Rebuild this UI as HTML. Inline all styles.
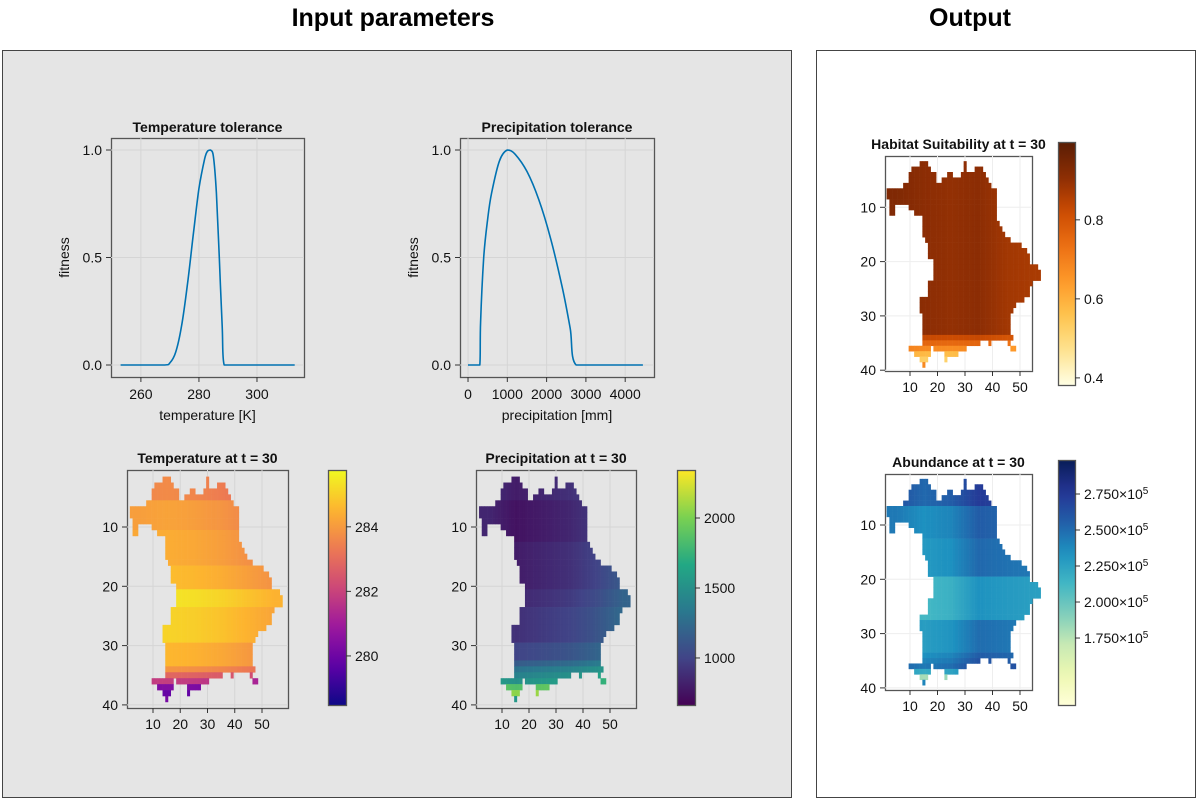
<!DOCTYPE html>
<html><head><meta charset="utf-8">
<style>
html,body{margin:0;padding:0;background:#fff;}
svg{display:block;font-family:"Liberation Sans",sans-serif;}
</style></head>
<body>
<svg id="fig" width="1200" height="800" viewBox="0 0 1200 800" xmlns="http://www.w3.org/2000/svg">
<text x="393" y="26" font-size="25" font-weight="bold" text-anchor="middle">Input parameters</text>
<text x="970" y="26" font-size="25" font-weight="bold" text-anchor="middle">Output</text>
<rect x="2.5" y="50.5" width="789" height="747" fill="#e5e5e5" stroke="#444" stroke-width="1"/>
<rect x="816.5" y="50.5" width="379" height="747" fill="#fff" stroke="#444" stroke-width="1"/>
<g id="layer"></g>
</svg>
<script>
// ---------- data ----------
const tempX = [253,268,270,272,274,276,278,280,282,283,284,285,286,287,288,288.7,313];
const tempFit = [0,0,0.01,0.06,0.18,0.37,0.6,0.82,0.96,0.995,1.0,0.97,0.8,0.5,0.18,0,0];
const precX = [0,300,320,400,500,600,800,1000,1200,1500,1800,2100,2400,2600,2750,4450];
const precFit = [0,0,0.2,0.5,0.68,0.8,0.95,1.0,0.98,0.9,0.77,0.59,0.36,0.17,0,0];
const tempTicksX = [260,280,300];
const precTicksX = [0,1000,2000,3000,4000];
const fitTicks = [0.0,0.5,1.0];

// map mask: row index -> list of [startCol,endCol]
const maskRows = [2,3,4,5,6,7,8,9,10,11,12,13,14,15,16,17,18,19,20,21,22,23,24,25,26,27,28,29,30,31,32,33,34,35,36,37,38,39];
const maskSegs = [
 [[14,16],[30,30]],
 [[11,17],[30,30],[34,36]],
 [[10,19],[24,25],[29,37]],
 [[10,19],[22,38]],
 [[8,39]],
 [[2,41]],
 [[2,41]],
 [[3,41]],
 [[3,4],[10,41]],
 [[3,4],[12,41]],
 [[15,41]],
 [[15,42]],
 [[15,43]],
 [[15,44]],
 [[16,46]],
 [[17,50]],
 [[17,52]],
 [[17,53]],
 [[19,53]],
 [[19,56]],
 [[19,57]],
 [[19,57]],
 [[17,54]],
 [[17,53]],
 [[17,53]],
 [[14,51]],
 [[14,48]],
 [[14,47]],
 [[15,46]],
 [[15,46]],
 [[15,46]],
 [[15,46]],
 [[15,47]],
 [[15,35],[39,39],[46,46]],
 [[10,17],[19,30],[47,48]],
 [[12,17],[23,27]],
 [[14,16],[23,23]],
 [[15,15]]
];
const tempRow = [283.3,283.3,283.3,283.3,283.8,283.8,283.8,283.8,283.8,284.0,284.0,284.0,284.0,284.0,284.0,284.3,284.3,284.3,284.3,285.0,285.0,285.0,284.7,284.7,284.7,284.7,284.7,284.7,284.2,284.2,284.2,284.2,283.5,282.5,281.5,280.0,279.5,279.8];
const tempCol = [0.3,0.4,0.3,0.1,-0.2,-0.5];
const precRow = [850,850,850,850,800,800,800,800,800,800,800,850,850,850,850,850,850,850,850,900,900,900,950,950,950,950,950,950,1050,1050,1050,1200,1350,1450,1550,1900,2100,1600];
const precCol = [50,-50,0,50,150,300];
const habRow = [0.93,0.93,0.93,0.93,0.93,0.93,0.93,0.93,0.93,0.93,0.93,0.93,0.93,0.93,0.93,0.93,0.93,0.93,0.93,0.93,0.93,0.93,0.93,0.93,0.93,0.93,0.93,0.93,0.93,0.93,0.93,0.93,0.85,0.78,0.7,0.6,0.55,0.7];
const habCol = [0,-0.02,-0.03,-0.02,-0.05,-0.06];
const abRow = [262000,262000,262000,262000,262000,245000,245000,245000,245000,245000,245000,240000,240000,240000,240000,240000,240000,240000,222000,222000,222000,222000,222000,222000,222000,222000,238000,238000,238000,238000,238000,238000,245000,250000,255000,230000,190000,250000];
const abCol = [0,-10000,-5000,12000,8000,5000];
const mapTicksX = [10,20,30,40,50];
const mapTicksY = [10,20,30,40];
const tempCbTicks = [280,282,284];
const precCbTicks = [1000,1500,2000];
const habCbTicks = [0.4,0.6,0.8];
const abCbTicks = [175000,200000,225000,250000,275000];

// ---------- helpers ----------
const NS = "http://www.w3.org/2000/svg";
const layer = document.getElementById('layer');
function mk(tag, attrs, parent){
  const e = document.createElementNS(NS, tag);
  for (const k in attrs) e.setAttribute(k, attrs[k]);
  (parent||layer).appendChild(e);
  return e;
}
function hex(h){return [parseInt(h.substr(1,2),16),parseInt(h.substr(3,2),16),parseInt(h.substr(5,2),16)];}
function cmap(stops){
  const c = stops.map(hex);
  return t=>{
    t=Math.max(0,Math.min(1,t));
    const p=t*(c.length-1), i=Math.min(c.length-2,Math.floor(p)), f=p-i;
    const r=c[i].map((v,k)=>Math.round(v+(c[i+1][k]-v)*f));
    return `rgb(${r[0]},${r[1]},${r[2]})`;
  };
}
const plasma = cmap(['#0d0887','#5c01a6','#9c179e','#cc4778','#ed7953','#fdb42f','#f0f921']);
const viridis = cmap(['#440154','#414487','#2a788e','#22a884','#7ad151','#fde725']);
const ylorbr = cmap(['#ffffe5','#fee391','#fec44f','#fe9929','#ec7014','#cc4c02','#8c2d04','#5a1e05']);
const ylgnbu = cmap(['#ffffd9','#edf8b1','#c7e9b4','#7fcdbb','#41b6c4','#1d91c0','#225ea8','#253494','#081d58']);

function axesBox(x,y,w,h,fill,name){
  const r = mk('rect',{x:x+0.5,y:y+0.5,width:w,height:h,fill:fill,stroke:'#555','stroke-width':1.3});
  
  
}
function label(x,y,txt,opts,name){
  const t = mk('text',Object.assign({x:x,y:y,'font-size':14,fill:'#111'},opts||{}));
  t.textContent = txt;
  
  
  return t;
}
const clamp=(v,a,b)=>Math.max(Math.min(a,b),Math.min(Math.max(a,b),v));

// ---------- line plots ----------
function linePlot(cfg){
  const {L,T,W,H,xmin,xmax,xs,ys,xticks,title,xlabel,name} = cfg;
  const sx = v=>L+(v-xmin)/(xmax-xmin)*W;
  const sy = v=>T+H-12-(v)*(H-24)*1.0;
  axesBox(L,T,W,H,'#e5e5e5',name+'-axes');
  xticks.forEach(v=>{
    const g=mk('line',{x1:sx(v),x2:sx(v),y1:T,y2:T+H,stroke:'#d5d5d5','stroke-width':1});
    
    
    const tk=mk('line',{x1:sx(v),x2:sx(v),y1:T+H,y2:T+H+5,stroke:'#333'});
    
    
    label(sx(v),T+H+22,String(v),{'text-anchor':'middle'},name+'-x-tick-label');
  });
  fitTicks.forEach(v=>{
    const g=mk('line',{x1:L,x2:L+W,y1:sy(v),y2:sy(v),stroke:'#d5d5d5','stroke-width':1});
    
    
    const tk=mk('line',{x1:L-5,x2:L,y1:sy(v),y2:sy(v),stroke:'#333'});
    
    
    label(L-9,sy(v)+5,v.toFixed(1),{'text-anchor':'end'},name+'-y-tick-label');
  });
  // smooth curve via clamped Catmull-Rom (no overshoot)
  const P = xs.map((x,i)=>[sx(x),sy(ys[i])]);
  let d = 'M'+P[0][0].toFixed(1)+','+P[0][1].toFixed(1);
  for(let i=0;i<P.length-1;i++){
    const p0=P[Math.max(0,i-1)],p1=P[i],p2=P[i+1],p3=P[Math.min(P.length-1,i+2)];
    const c1=[clamp(p1[0]+(p2[0]-p0[0])/6,p1[0],p2[0]),clamp(p1[1]+(p2[1]-p0[1])/6,p1[1],p2[1])];
    const c2=[clamp(p2[0]-(p3[0]-p1[0])/6,p1[0],p2[0]),clamp(p2[1]-(p3[1]-p1[1])/6,p1[1],p2[1])];
    d+=` C${c1[0].toFixed(1)},${c1[1].toFixed(1)} ${c2[0].toFixed(1)},${c2[1].toFixed(1)} ${p2[0].toFixed(1)},${p2[1].toFixed(1)}`;
  }
  const p = mk('path',{d:d,fill:'none',stroke:'#0072b2','stroke-width':1.6,'stroke-linejoin':'round'});
  
  
  label(L+W/2,T-6,title,{'text-anchor':'middle','font-weight':'bold'},name+'-title');
  label(L+W/2,T+H+43,xlabel,{'text-anchor':'middle'},name+'-x-label');
  label(L-42,T+H/2,'fitness',{'text-anchor':'middle',transform:`rotate(-90 ${L-42} ${T+H/2})`},name+'-y-label');
}
linePlot({L:111,T:138,W:193,H:239,xmin:249.7,xmax:316.2,xs:tempX,ys:tempFit,xticks:tempTicksX,title:'Temperature tolerance',xlabel:'temperature [K]',name:'temp-tolerance'});
linePlot({L:460,T:138,W:194,H:239,xmin:-204,xmax:4733,xs:precX,ys:precFit,xticks:precTicksX,title:'Precipitation tolerance',xlabel:'precipitation [mm]',name:'precip-tolerance'});

// ---------- maps ----------
function mapPlot(cfg){
  const {L,T,W,H,x0,xs,y0,ys,bg,grid,rowV,colA,vmin,vmax,cm,title,name} = cfg;
  axesBox(L,T,W,H,bg,name+'-axes');
  const px = v=>x0+v*xs, py = v=>y0+v*ys;
  mapTicksX.forEach(v=>{
    const g=mk('line',{x1:px(v),x2:px(v),y1:T,y2:T+H,stroke:grid});
    
    
    const tk=mk('line',{x1:px(v),x2:px(v),y1:T+H,y2:T+H+5,stroke:'#333'});
    
    
    label(px(v),T+H+21,String(v),{'text-anchor':'middle'},name+'-x-tick-label');
  });
  mapTicksY.forEach(v=>{
    const g=mk('line',{x1:L,x2:L+W,y1:py(v),y2:py(v),stroke:grid});
    
    
    const tk=mk('line',{x1:L-5,x2:L,y1:py(v),y2:py(v),stroke:'#333'});
    
    
    label(L-9,py(v)+5,String(v),{'text-anchor':'end'},name+'-y-tick-label');
  });
  maskRows.forEach((r,i)=>{
    maskSegs[i].forEach(seg=>{
      for(let c=seg[0];c<=seg[1];c++){
        const b=c/10-0.5, bi=Math.max(0,Math.min(4,Math.floor(b))), bf=Math.max(0,Math.min(1,b-bi));
        const adj=colA[bi]+(colA[bi+1]-colA[bi])*bf;
        const v=rowV[i]+adj;
        const cell=mk('rect',{x:(px(c-0.5)).toFixed(2),y:(py(r-0.5)).toFixed(2),width:(xs+0.3).toFixed(2),height:(ys+0.3).toFixed(2),fill:cm((v-vmin)/(vmax-vmin))});
        
        
      }
    });
  });
  label(L+W/2,T-7,title,{'text-anchor':'middle','font-weight':'bold'},name+'-title');
}
function colorbar(cfg){
  const {L,T,W,H,vmin,vmax,cm,ticks,fmt,name,id} = cfg;
  const g = mk('linearGradient',{id:id,x1:0,y1:1,x2:0,y2:0},mk('defs',{}));
  for(let i=0;i<=20;i++){mk('stop',{offset:i/20,'stop-color':cm(i/20)},g);}
  const r=mk('rect',{x:L+0.5,y:T+0.5,width:W,height:H,fill:`url(#${id})`,stroke:'#555','stroke-width':1.3});
  
  
  ticks.forEach(v=>{
    const y=T+H-(v-vmin)/(vmax-vmin)*H;
    const tk=mk('line',{x1:L+W,x2:L+W+5,y1:y,y2:y,stroke:'#333'});
    
    
    fmt(L+W+9,y+5,v);
  });
}
const simpleFmt = name=>(x,y,v)=>label(x,y,String(v),{},name+'-tick-label');
const sciFmt = (x,y,v)=>{
  const t=label(x,y,(v/1e5).toFixed(3)+'×10',{},'abundance-colorbar-tick-label');
  const s=mk('tspan',{dy:-5,'font-size':10},t); s.textContent='5';
};

mapPlot({L:127,T:470,W:161,H:238,x0:125.75,xs:2.725,y0:467.7,ys:5.93,bg:'#e5e5e5',grid:'#d5d5d5',rowV:tempRow,colA:tempCol,vmin:278.48,vmax:285.76,cm:plasma,title:'Temperature at t = 30',name:'temperature-map'});
colorbar({L:328,T:470,W:18,H:235,vmin:278.48,vmax:285.76,cm:plasma,ticks:tempCbTicks,fmt:simpleFmt('temperature-colorbar'),name:'temperature-colorbar',id:'gT'});
mapPlot({L:476,T:470,W:160,H:238,x0:475,xs:2.7,y0:467.7,ys:5.93,bg:'#e5e5e5',grid:'#d5d5d5',rowV:precRow,colA:precCol,vmin:664,vmax:2343,cm:viridis,title:'Precipitation at t = 30',name:'precipitation-map'});
colorbar({L:677,T:470,W:18,H:235,vmin:664,vmax:2343,cm:viridis,ticks:precCbTicks,fmt:simpleFmt('precipitation-colorbar'),name:'precipitation-colorbar',id:'gP'});
mapPlot({L:885,T:156,W:147,H:215,x0:882.5,xs:2.75,y0:153,ys:5.43,bg:'#fff',grid:'#eeeeee',rowV:habRow,colA:habCol,vmin:0.382,vmax:0.997,cm:ylorbr,title:'Habitat Suitability at t = 30',name:'habitat-map'});
colorbar({L:1058,T:142,W:17,H:243,vmin:0.382,vmax:0.997,cm:ylorbr,ticks:habCbTicks,fmt:simpleFmt('habitat-colorbar'),name:'habitat-colorbar',id:'gH'});
mapPlot({L:885,T:474,W:147,H:216,x0:882.5,xs:2.75,y0:470.7,ys:5.43,bg:'#fff',grid:'#eeeeee',rowV:abRow,colA:abCol,vmin:128500,vmax:298600,cm:ylgnbu,title:'Abundance at t = 30',name:'abundance-map'});
colorbar({L:1058,T:460,W:17,H:245,vmin:128500,vmax:298600,cm:ylgnbu,ticks:abCbTicks,fmt:sciFmt,name:'abundance-colorbar',id:'gA'});
</script>
</body></html>
